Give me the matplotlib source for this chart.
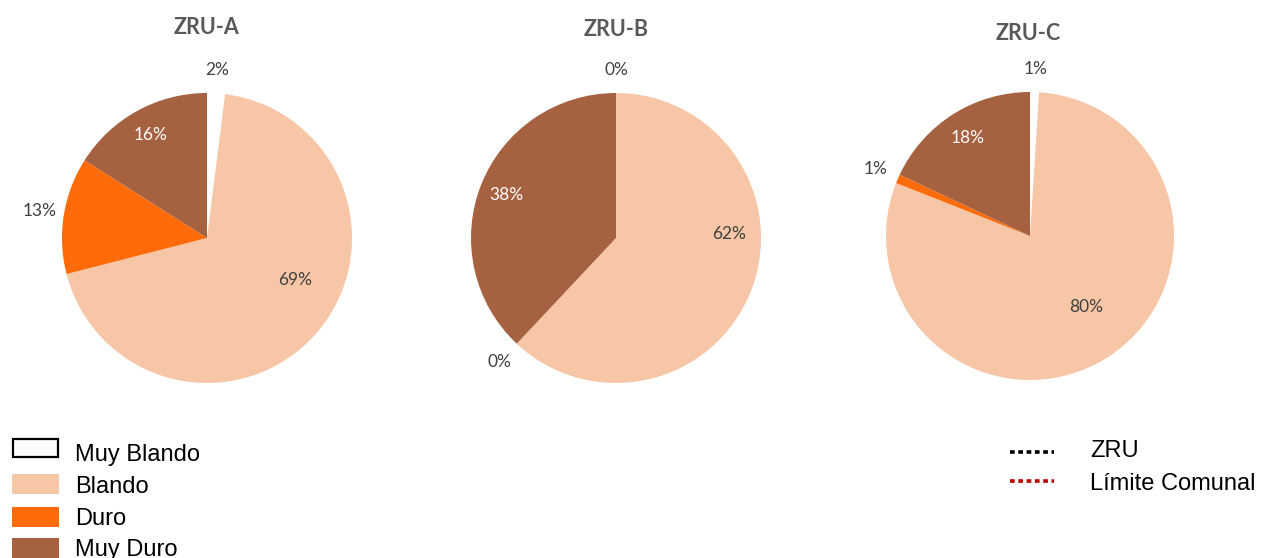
import numpy as np
import matplotlib
matplotlib.use("Agg")
import matplotlib.pyplot as plt
from matplotlib.patches import Rectangle
from matplotlib.lines import Line2D

# ---- data ----
categories = ["Muy Blando", "Blando", "Duro", "Muy Duro"]
zones = ["ZRU-A", "ZRU-B", "ZRU-C"]
zru_a = [2, 69, 13, 16]
zru_b = [0, 62, 0, 38]
zru_c = [1, 80, 1, 18]
zone_values = [zru_a, zru_b, zru_c]
line_labels = ["ZRU", "Límite Comunal"]

# ---- style ----
colors = ["#FFFFFF", "#F7C6A6", "#FF6B08", "#A66140"]
label_colors = ["#404040", "#404040", "#404040", "#FFFFFF"]
label_radius = [1.16, None, 1.17, 0.81]
# Blando label placement per pie: (angle in degrees, radius)
blando_label_pos = [(-25.5, 0.67), (2.0, 0.78), (-52.0, 0.63)]
line_colors = ["#000000", "#C00000"]

W, H = 1261, 558
fig = plt.figure(figsize=(W / 100, H / 100), dpi=100)

# pie centres and radii in pixels (x, y from top, radius)
pie_geom = [(207, 238, 145), (616, 238, 145), (1030, 236, 144)]
title_pos = [(206, 28), (616, 29), (1028, 33)]

pct_font = "Lato"
for i, (vals, (cx, cy, R)) in enumerate(zip(zone_values, pie_geom)):
    ax = fig.add_axes([(cx - R) / W, (H - cy - R) / H, 2 * R / W, 2 * R / H])
    wedges, _ = ax.pie(vals, colors=colors, startangle=90, counterclock=False,
                       radius=1.0, wedgeprops=dict(linewidth=0))
    ax.set_xlim(-1, 1)
    ax.set_ylim(-1, 1)
    ax.set_aspect("equal")
    ax.axis("off")
    for j, (w, v) in enumerate(zip(wedges, vals)):
        if j == 1:
            ang, r = blando_label_pos[i]
        else:
            ang = (w.theta1 + w.theta2) / 2.0
            r = label_radius[j]
        a = np.deg2rad(ang)
        ax.text(r * np.cos(a), r * np.sin(a), f"{v}%", ha="center", va="center",
                fontsize=12.5, color=label_colors[j], family=pct_font)
    tx, ty = title_pos[i]
    fig.text(tx / W, 1 - ty / H, zones[i], ha="center", va="center",
             fontsize=15.5, fontweight="bold", color="#595959", family=pct_font)

# ---- category legend (left) ----
leg_font = "Liberation Sans"
box_y = [448, 484, 517, 548]
text_baseline = [461, 493, 525, 556]
for k, (cat, col) in enumerate(zip(categories, colors)):
    y = box_y[k]
    if k == 0:
        rect = Rectangle((13 / W, 1 - (y + 9) / H), 45 / W, 18 / H,
                         transform=fig.transFigure, facecolor="white",
                         edgecolor="black", linewidth=1.6)
    else:
        rect = Rectangle((12 / W, 1 - (y + 10) / H), 47 / W, 20 / H,
                         transform=fig.transFigure, facecolor=col,
                         edgecolor="none")
    fig.patches.append(rect)
    fig.text(75 / W, 1 - text_baseline[k] / H, cat, ha="left", va="baseline",
             fontsize=17, color="#000000", family=leg_font)

# ---- boundary line legend (right) ----
line_rows = [452, 481]
line_text_baseline = [457, 490]
for k, (lab, col) in enumerate(zip(line_labels, line_colors)):
    y = 1 - line_rows[k] / H
    fig.lines.append(Line2D([1010 / W, 1054 / W], [y, y], transform=fig.transFigure,
                            color=col, linewidth=2.6, linestyle=(0, (1.3, 1.0)),
                            solid_capstyle="butt", dash_capstyle="butt"))
    fig.text(1090 / W, 1 - line_text_baseline[k] / H, lab, ha="left", va="baseline",
             fontsize=17, color="#000000", family=leg_font)

fig.savefig("out.png", dpi=100)
